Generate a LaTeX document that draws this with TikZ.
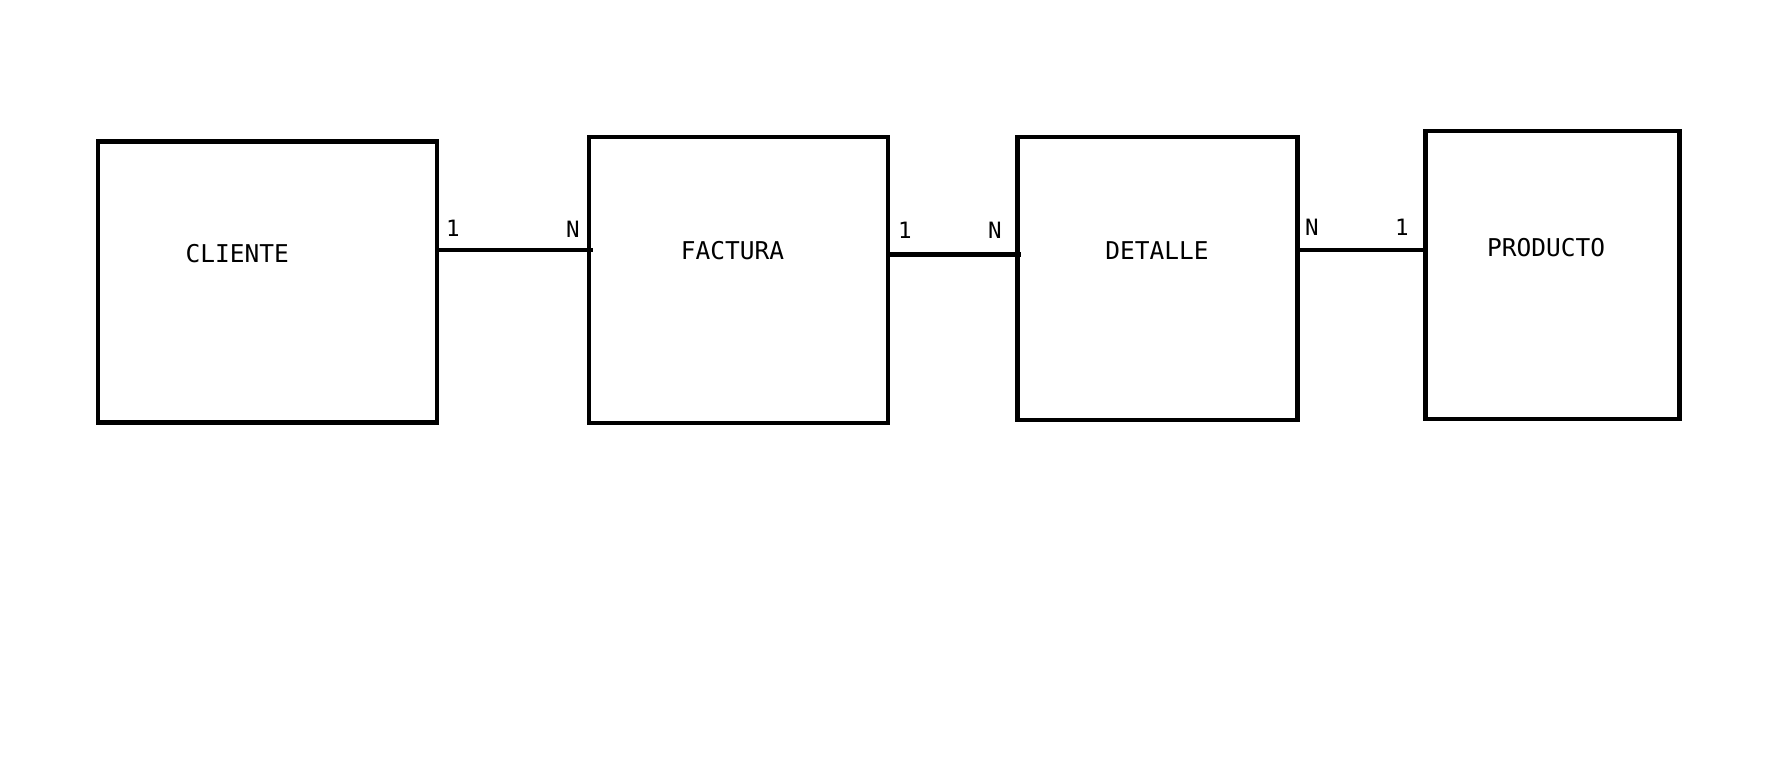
\documentclass[tikz,border=0pt]{standalone}
\usepackage{fontspec}
\setmonofont{DejaVu Sans Mono}
\begin{document}
\begin{tikzpicture}[x=1pt,y=-1pt,
  entity/.style={draw=black,line width=4.6pt,inner sep=0pt,rectangle},
  lbl/.style={font=\ttfamily\fontsize{24.5}{27}\selectfont,inner sep=0pt,anchor=center},
  card/.style={font=\ttfamily\fontsize{22.5}{24}\selectfont,inner sep=0pt,anchor=center},
  conn/.style={line width=4.6pt}]
\useasboundingbox (0,0) rectangle (1789,777);
\node[entity,minimum width=339pt,minimum height=281pt] (cliente) at (267.6,281.9) {};
\node[entity,minimum width=299pt,minimum height=286pt] (factura) at (738.3,280.1) {};
\node[entity,minimum width=280pt,minimum height=283pt] (detalle) at (1157.6,278.4) {};
\node[entity,minimum width=254pt,minimum height=288pt] (producto) at (1552.4,275) {};
\node[lbl] (tcliente) at (237.3,253.3) {CLIENTE};
\node[lbl] (tfactura) at (732.5,251) {FACTURA};
\node[lbl] (tdetalle) at (1157,251) {DETALLE};
\node[lbl] (tproducto) at (1546,247.6) {PRODUCTO};
\draw[conn,shorten <=-2pt,shorten >=-6pt] (cliente.east |- 0,249.9) -- (factura.west |- 0,249.9);
\draw[conn,shorten >=-6pt] (factura.east |- 0,254.5) -- (detalle.west |- 0,254.5);
\draw[conn] (detalle.east |- 0,249.9) -- (producto.west |- 0,249.9);
\node[card] (c1) at (453,228) {1};
\node[card] (c2) at (572.8,229.3) {N};
\node[card] (c3) at (904.8,230.5) {1};
\node[card] (c4) at (995,230.5) {N};
\node[card] (c5) at (1312,227) {N};
\node[card] (c6) at (1402,227) {1};
\end{tikzpicture}
\end{document}
